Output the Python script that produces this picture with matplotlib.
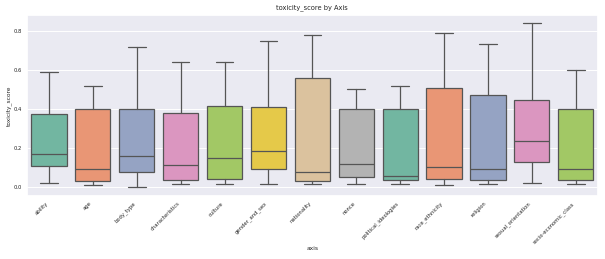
import matplotlib
matplotlib.use("Agg")
import matplotlib.pyplot as plt
import seaborn as sns

categories = ["ability", "age", "body_type", "characteristics", "culture",
              "gender_and_sex", "nationality", "nonce", "political_ideologies",
              "race_ethnicity", "religion", "sexual_orientation", "socio-economic_class"]
whislo = [0.020, 0.009, 0.000, 0.017, 0.014, 0.014, 0.014, 0.014, 0.014, 0.010, 0.014, 0.022, 0.014]
q1     = [0.108, 0.032, 0.077, 0.039, 0.043, 0.094, 0.032, 0.053, 0.034, 0.041, 0.037, 0.127, 0.034]
median = [0.168, 0.092, 0.162, 0.111, 0.149, 0.183, 0.075, 0.118, 0.058, 0.101, 0.092, 0.236, 0.092]
q3     = [0.374, 0.400, 0.400, 0.378, 0.414, 0.409, 0.559, 0.400, 0.400, 0.506, 0.470, 0.448, 0.400]
whishi = [0.591, 0.520, 0.716, 0.639, 0.639, 0.750, 0.780, 0.503, 0.520, 0.790, 0.732, 0.841, 0.598]

sns.set_theme(style="darkgrid")
plt.rcParams['font.family'] = ['DejaVu Sans']

fig = plt.figure(figsize=(6.05, 2.59), dpi=100)
ax = fig.add_axes([27/605, 1 - 195.7/259, (597.7 - 27)/605, (195.7 - 15)/259])

pal = [sns.desaturate(c, 0.75) for c in sns.color_palette("Set2", len(categories))]
stats = []
for i, name in enumerate(categories):
    stats.append(dict(label=name, whislo=whislo[i], q1=q1[i], med=median[i],
                      q3=q3[i], whishi=whishi[i], fliers=[]))

lc = "#555555"
lw = 0.9
bp = ax.bxp(stats, positions=range(len(categories)), widths=0.8, patch_artist=True,
            showfliers=False, capwidths=0.4,
            boxprops=dict(edgecolor=lc, linewidth=lw),
            medianprops=dict(color=lc, linewidth=lw),
            whiskerprops=dict(color=lc, linewidth=lw),
            capprops=dict(color=lc, linewidth=lw))
for patch, c in zip(bp['boxes'], pal):
    patch.set_facecolor(c)

ax.set_xlim(-0.5, len(categories) - 0.5)
ax.set_xticks(range(len(categories)))
ax.set_xticklabels(categories, rotation=45, ha="right", fontsize=3.8)
ax.tick_params(axis="y", labelsize=3.8, length=0, pad=3.5)
ax.tick_params(axis="x", length=0, pad=3.5)
ax.set_yticks([0.0, 0.2, 0.4, 0.6, 0.8])
ax.set_ylim(-0.044, 0.882)
ax.set_xlabel("axis", fontsize=4.3)
ax.set_ylabel("toxicity_score", fontsize=4.2)
ax.yaxis.set_label_coords(-(27 - 9) / (597.7 - 27), 0.5)
ax.xaxis.set_label_coords(0.5, -(248 - 195.7) / (195.7 - 15))
ax.xaxis.label.set_verticalalignment("center")
ax.yaxis.label.set_verticalalignment("center")
ax.set_title("toxicity_score by Axis", fontsize=4.8, pad=4)
for line in ax.yaxis.get_gridlines():
    line.set_linewidth(0.7)
ax.grid(axis="x", visible=True, linewidth=0)

fig.savefig("out.png", dpi=100)
